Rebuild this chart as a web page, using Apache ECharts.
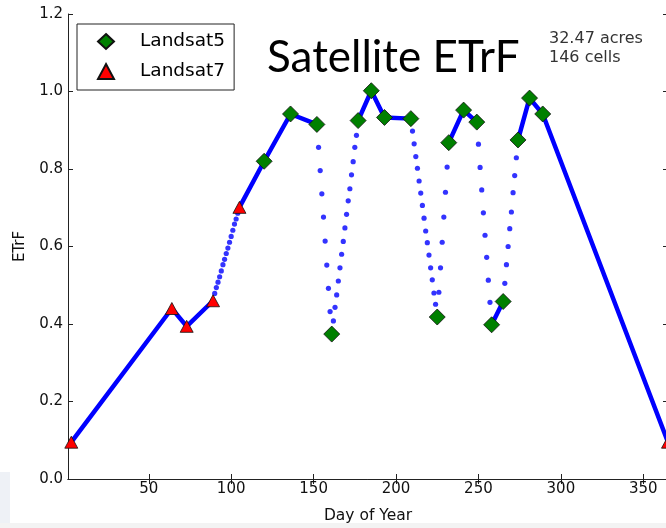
<!DOCTYPE html>
<html>
<head>
<meta charset="utf-8">
<title>Satellite ETrF</title>
<script src="https://cdn.jsdelivr.net/npm/echarts@6/dist/echarts.min.js"></script>
<style>
  html, body { margin: 0; padding: 0; background: #fff; }
  #chart { width: 666px; height: 528px; }
</style>
</head>
<body>
<div id="chart"></div>
<script>
// satellite overpass observations (day of year, ETrF)
const l5Days = [120, 136, 152, 161, 177, 185, 193, 209, 225, 232, 241, 249, 258, 265, 274, 281, 289];
const l5Vals = [0.820, 0.942, 0.915, 0.374, 0.925, 1.002, 0.933, 0.930, 0.418, 0.868, 0.952, 0.921, 0.398, 0.458, 0.875, 0.983, 0.942];
const l7Days = [3, 64, 73, 89, 105, 365];
const l7Vals = [0.095, 0.440, 0.394, 0.460, 0.701, 0.095];

const dots89 = [0.479, 0.494, 0.508, 0.522, 0.537, 0.553, 0.567, 0.582, 0.596, 0.611, 0.626, 0.642, 0.658, 0.671, 0.686];
const dots152 = [0.856, 0.796, 0.736, 0.676, 0.614, 0.552, 0.492, 0.432];
const dots161 = [0.408, 0.443, 0.475, 0.511, 0.545, 0.580, 0.613, 0.648, 0.683, 0.718, 0.749, 0.785, 0.819, 0.856, 0.887];
const dots209 = [0.898, 0.865, 0.832, 0.802, 0.769, 0.738, 0.706, 0.673, 0.640, 0.610, 0.578, 0.545, 0.514, 0.480, 0.451];
const dots225 = [0.482, 0.545, 0.611, 0.676, 0.740, 0.805];
const dots249 = [0.864, 0.804, 0.746, 0.687, 0.629, 0.572, 0.513, 0.456];
const dots265 = [0.505, 0.553, 0.600, 0.646, 0.689, 0.739, 0.783, 0.829];
const dotStarts = [89, 152, 161, 209, 225, 249, 265];
const dotRuns = [dots89, dots152, dots161, dots209, dots225, dots249, dots265];

const xTicks = [50, 100, 150, 200, 250, 300, 350];

const font = 'DejaVu Sans';
const axisColor = '#222';

const obs = l5Days.map((d, i) => [d, l5Vals[i]])
  .concat(l7Days.map((d, i) => [d, l7Vals[i]]))
  .sort((a, b) => a[0] - b[0]);

// solid runs between observations, broken where the dotted stretches are
const solidRuns = [];
let run = [obs[0]];
for (let i = 1; i < obs.length; i++) {
  if (dotStarts.includes(obs[i - 1][0])) {
    if (run.length > 1) solidRuns.push(run);
    run = [obs[i]];
  } else {
    run.push(obs[i]);
  }
}
if (run.length > 1) solidRuns.push(run);

const dotData = [];
dotRuns.forEach((vals, k) => {
  vals.forEach((v, i) => dotData.push([dotStarts[k] + 1 + i, v]));
});

const chart = echarts.init(document.getElementById('chart'));

const spine = { show: true, lineStyle: { color: axisColor, width: 1 } };
const tick = { show: true, inside: true, length: 5, lineStyle: { color: axisColor, width: 1 } };

const series = solidRuns.map(r => ({
  type: 'line',
  data: r,
  showSymbol: false,
  silent: true,
  z: 2,
  lineStyle: { color: '#0000ff', width: 4.5, cap: 'round', join: 'round' }
}));

series.push({
  type: 'scatter',
  data: dotData,
  symbol: 'circle',
  symbolSize: 5.2,
  silent: true,
  z: 2,
  itemStyle: { color: '#0000ff' }
});

series.push({
  name: 'Landsat5',
  type: 'scatter',
  data: l5Days.map((d, i) => [d, l5Vals[i]]),
  symbol: 'diamond',
  symbolSize: 16,
  z: 4,
  itemStyle: { color: '#008000', borderColor: '#111', borderWidth: 0.8, opacity: 1 }
});

series.push({
  name: 'Landsat7',
  type: 'scatter',
  data: l7Days.map((d, i) => [d, l7Vals[i]]),
  symbol: 'triangle',
  symbolSize: [13, 12],
  z: 4,
  itemStyle: { color: '#ff0000', borderColor: '#111', borderWidth: 0.8, opacity: 1 }
});

const option = {
  animation: false,
  backgroundColor: '#fff',
  title: {
    text: 'Satellite ETrF',
    left: 267,
    top: 36,
    padding: 0,
    textStyle: { fontFamily: 'Lato', fontSize: 44, fontWeight: 'normal', color: '#000' }
  },
  legend: {
    data: ['Landsat5', 'Landsat7'],
    orient: 'vertical',
    left: 77,
    top: 24,
    padding: [8, 9, 9, 20],
    itemWidth: 16,
    itemHeight: 15,
    itemGap: 11,
    borderColor: axisColor,
    borderWidth: 1,
    textStyle: { fontFamily: font, fontSize: 18.5, color: '#000', padding: [0, 0, 0, 21] }
  },
  grid: { left: 68, right: -2, top: 14, bottom: 49, outerBoundsMode: 'none' },
  xAxis: [
    {
      type: 'value',
      min: 1,
      max: 365,
      position: 'bottom',
      axisLine: spine,
      axisTick: Object.assign({ customValues: xTicks }, tick),
      axisLabel: { customValues: xTicks, fontFamily: font, fontSize: 15, color: '#111', margin: 3 },
      splitLine: { show: false },
      name: 'Day of Year',
      nameLocation: 'middle',
      nameGap: 29,
      nameTextStyle: { fontFamily: font, fontSize: 15.5, color: '#111' }
    },
    {
      type: 'value',
      min: 1,
      max: 365,
      position: 'top',
      axisLine: spine,
      axisTick: Object.assign({ customValues: xTicks }, tick),
      axisLabel: { show: false },
      splitLine: { show: false }
    }
  ],
  yAxis: [
    {
      type: 'value',
      min: 0,
      max: 1.2,
      interval: 0.2,
      axisLine: spine,
      axisTick: tick,
      axisLabel: {
        fontFamily: font, fontSize: 15, color: '#111', margin: 5,
        formatter: v => v.toFixed(1)
      },
      splitLine: { show: false },
      name: 'ETrF',
      nameLocation: 'middle',
      nameGap: 40,
      nameTextStyle: { fontFamily: font, fontSize: 15, color: '#111' }
    },
    {
      type: 'value',
      min: 0,
      max: 1.2,
      interval: 0.2,
      position: 'right',
      axisLine: spine,
      axisTick: tick,
      axisLabel: { show: false },
      splitLine: { show: false }
    }
  ],
  graphic: [
    {
      type: 'text',
      left: 549,
      top: 29,
      style: {
        text: '32.47 acres\n146 cells',
        fontFamily: font,
        fontSize: 16,
        lineHeight: 19.5,
        fill: '#333'
      }
    },
    { type: 'rect', left: 0, top: 472, shape: { width: 10, height: 56 }, style: { fill: '#eef1f6' }, silent: true },
    { type: 'rect', left: 0, top: 523, shape: { width: 666, height: 5 }, style: { fill: '#f3f3f3' }, silent: true }
  ],
  series: series
};

chart.setOption(option);

window.addEventListener('resize', () => {
  chart.resize();
});
</script>
</body>
</html>
